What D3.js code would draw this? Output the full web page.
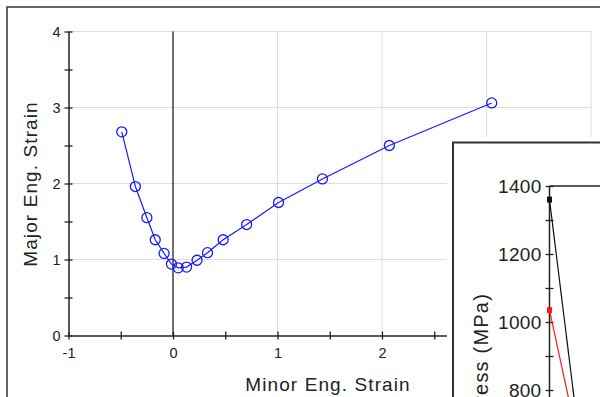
<!DOCTYPE html>
<html>
<head>
<meta charset="utf-8">
<script src="https://cdn.jsdelivr.net/npm/d3@7"></script>
<style>
  body { margin: 0; background: #fff; }
  text { font-family: "Liberation Sans", Arial, sans-serif; fill: #222; }
</style>
</head>
<body>
<script>
// FLD curve: minor vs major engineering strain
var minorStrain = [-0.49, -0.36, -0.25, -0.17, -0.085, -0.015, 0.05, 0.13, 0.23, 0.33, 0.48, 0.705, 1.01, 1.43, 2.07, 3.05];
var majorStrain = [2.68, 1.96, 1.55, 1.26, 1.08, 0.94, 0.89, 0.90, 0.99, 1.09, 1.26, 1.46, 1.75, 2.06, 2.50, 3.06];
var xTicks = [-1, 0, 1, 2];
var yTicks = [0, 1, 2, 3, 4];

// inset: stress curves (only their tops are visible)
var insetStrain = [0, 0.16];
var stressBlack = [1360, 600];
var stressRed = [1035, 600];
var insetTicks = [800, 1000, 1200, 1400];

var W = 600, H = 397;

var svg = d3.select("body").append("svg")
  .attr("width", W)
  .attr("height", H);

// outer frame
svg.append("path")
  .attr("d", "M7," + (H + 5) + "V7H" + (W + 5))
  .attr("fill", "none")
  .attr("stroke", "#333")
  .attr("stroke-width", 1.5);

var x = d3.scaleLinear().domain([-1, 4]).range([68.5, 591]);
var y = d3.scaleLinear().domain([0, 4]).range([335.5, 31.5]);

/* grid */
svg.append("g").selectAll("line")
  .data([1, 2, 3, 4])
  .enter().append("line")
  .attr("x1", d => x(d)).attr("x2", d => x(d))
  .attr("y1", y(0)).attr("y2", y(4))
  .attr("stroke", "#ddd");

svg.append("g").selectAll("line")
  .data([1, 2, 3, 4])
  .enter().append("line")
  .attr("x1", x(-1)).attr("x2", x(4))
  .attr("y1", d => y(d)).attr("y2", d => y(d))
  .attr("stroke", "#ddd");

// zero line
svg.append("line")
  .attr("x1", x(0)).attr("x2", x(0))
  .attr("y1", y(0)).attr("y2", y(4))
  .attr("stroke", "#222")
  .attr("stroke-width", 1.3);

/* axes */
function crossTicks(axis, fs) {
  axis.select(".domain").attr("stroke", "#222").attr("stroke-width", 1.5);
  axis.selectAll(".tick line").attr("stroke", "#222").attr("stroke-width", 1.3);
  axis.selectAll("text").attr("font-size", fs).attr("fill", "#222");
}

var numFmt = d => String(d).replace("\u2212", "-");

var xAxis = svg.append("g")
  .attr("transform", "translate(0," + y(0) + ")")
  .call(d3.axisBottom(x).tickValues(d3.range(-1, 4.01, 0.5)).tickSize(4).tickSizeOuter(0)
    .tickFormat(d => xTicks.indexOf(d) >= 0 ? numFmt(d) : ""));
xAxis.selectAll(".tick line").attr("y1", -4);
xAxis.selectAll(".tick text").attr("dy", "1.05em");
crossTicks(xAxis, 14.5);

var yAxis = svg.append("g")
  .attr("transform", "translate(" + x(-1) + ",0)")
  .call(d3.axisLeft(y).tickValues(d3.range(0, 4.01, 0.5)).tickSize(4).tickSizeOuter(0)
    .tickFormat(d => yTicks.indexOf(d) >= 0 ? numFmt(d) : ""));
yAxis.selectAll(".tick line").attr("x1", 4);
yAxis.selectAll(".tick text").attr("x", -8);
crossTicks(yAxis, 14.5);

svg.append("text")
  .attr("transform", "translate(37,184) rotate(-90)")
  .attr("text-anchor", "middle")
  .attr("font-size", 19)
  .attr("letter-spacing", 1.1)
  .text("Major Eng. Strain");

svg.append("text")
  .attr("x", 328).attr("y", 391)
  .attr("text-anchor", "middle")
  .attr("font-size", 19)
  .attr("letter-spacing", 1.1)
  .text("Minor Eng. Strain");

/* curve */
var pts = minorStrain.map((d, i) => [d, majorStrain[i]]);

svg.append("path")
  .datum(pts)
  .attr("fill", "none")
  .attr("stroke", "#1a1aff")
  .attr("stroke-width", 1.2)
  .attr("d", d3.line().x(d => x(d[0])).y(d => y(d[1])));

svg.append("g").selectAll("circle")
  .data(pts)
  .enter().append("circle")
  .attr("cx", d => x(d[0]))
  .attr("cy", d => y(d[1]))
  .attr("r", 5)
  .attr("fill", "none")
  .attr("stroke", "#1a1aff")
  .attr("stroke-width", 1.3);

/* inset */
svg.append("rect")
  .attr("x", 447).attr("y", 137)
  .attr("width", W).attr("height", H)
  .attr("fill", "#fff");
svg.append("rect")
  .attr("x", 453).attr("y", 142.5)
  .attr("width", W).attr("height", H)
  .attr("fill", "#fff")
  .attr("stroke", "#333")
  .attr("stroke-width", 2);

var ix = d3.scaleLinear().domain([0, 1]).range([549.5, 749.5]);
var iy = d3.scaleLinear().domain([800, 1400]).range([390, 186]);

svg.append("line")
  .attr("x1", ix(0)).attr("x2", W + 5)
  .attr("y1", iy(1400)).attr("y2", iy(1400))
  .attr("stroke", "#222").attr("stroke-width", 1.3);

var iAxis = svg.append("g")
  .attr("transform", "translate(" + ix(0) + ",0)")
  .call(d3.axisLeft(iy).tickValues(d3.range(700, 1401, 100)).tickSize(4).tickSizeOuter(0)
    .tickFormat(d => insetTicks.indexOf(d) >= 0 ? d : ""));
iAxis.select(".domain").attr("d", "M0," + iy(1400) + "V" + (H + 5));
iAxis.selectAll(".tick line").attr("x1", 4);
iAxis.selectAll(".tick text").attr("x", -8).attr("letter-spacing", 0.3);
crossTicks(iAxis, 19);

svg.append("text")
  .attr("transform", "translate(488,293) rotate(-90)")
  .attr("text-anchor", "end")
  .attr("font-size", 20)
  .attr("letter-spacing", 1.2)
  .text("Stress (MPa)");

var iline = d3.line().x(d => ix(d[0])).y(d => iy(d[1]));
var series = [
  { vals: stressBlack, color: "#111" },
  { vals: stressRed, color: "#ff1a1a" }
];
series.forEach(function (s) {
  var p = insetStrain.map((d, i) => [d, s.vals[i]]);
  svg.append("path")
    .datum(p)
    .attr("fill", "none")
    .attr("stroke", s.color)
    .attr("stroke-width", 1.2)
    .attr("d", iline);
  svg.append("rect")
    .attr("x", ix(p[0][0]) - 2.5)
    .attr("y", iy(p[0][1]) - 3)
    .attr("width", 5).attr("height", 6)
    .attr("fill", s.color);
});
</script>
</body>
</html>
